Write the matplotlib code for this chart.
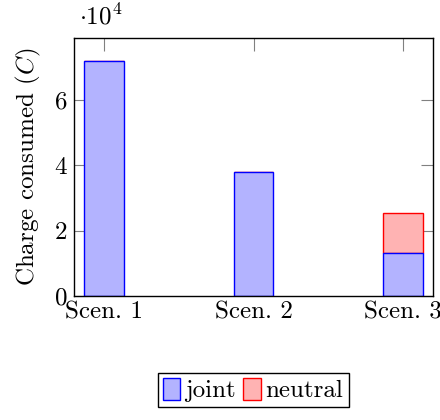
import matplotlib as mpl
import matplotlib.pyplot as plt
from matplotlib.ticker import FuncFormatter

scenarios = ["Scen. 1", "Scen. 2", "Scen. 3"]
joint = [71800, 37900, 13100]
neutral = [60, 0, 12300]

mpl.rcParams["font.family"] = ["cmr10", "DejaVu Serif"]
mpl.rcParams["mathtext.fontset"] = "cm"
mpl.rcParams["axes.formatter.use_mathtext"] = True

fs = 18
fig = plt.figure(figsize=(4.4, 4.2), dpi=100, facecolor="#FFFFFF")
ax = fig.add_axes([74/440, 1-296/420, (433-74)/440, (296-38)/420])

pos = list(range(len(scenarios)))
w = 0.267
ax.bar(pos, neutral, w, bottom=joint, color="#ffb3b3", edgecolor="#ff0000",
       linewidth=1.0, label="neutral", zorder=2)
ax.bar(pos, joint, w, color="#b3b3ff", edgecolor="#0000ff",
       linewidth=1.0, label="joint", zorder=3)

ax.set_xlim(-0.2, 2.2)
ax.set_ylim(0, 78800)
ax.set_xticks(pos)
ax.set_xticklabels(scenarios)
ax.set_yticks([0, 20000, 40000, 60000])
ax.yaxis.set_major_formatter(FuncFormatter(lambda v, p: "%d" % round(v / 1e4)))
ax.tick_params(direction="in", length=9, width=0.8, color="#808080",
               top=True, right=True, labelsize=fs)
ax.tick_params(axis="x", pad=4)
ax.tick_params(axis="y", pad=5)
for s in ax.spines.values():
    s.set_linewidth(1.0)
    s.set_zorder(5)
ax.set_ylabel("Charge consumed ($C$)", fontsize=fs, labelpad=8)
ax.text(0.015, 1.035, r"$\cdot10^4$", transform=ax.transAxes, fontsize=fs,
        ha="left", va="bottom")

h, l = ax.get_legend_handles_labels()
fig.legend(h[::-1], l[::-1], loc="center", bbox_to_anchor=(253/440, 1-390/420),
           ncol=2, fontsize=fs, handlelength=0.7, handleheight=1.0,
           handletextpad=0.2, columnspacing=0.3, borderpad=0.2,
           fancybox=False, edgecolor="black", framealpha=1)

fig.savefig("out.png", dpi=100)
